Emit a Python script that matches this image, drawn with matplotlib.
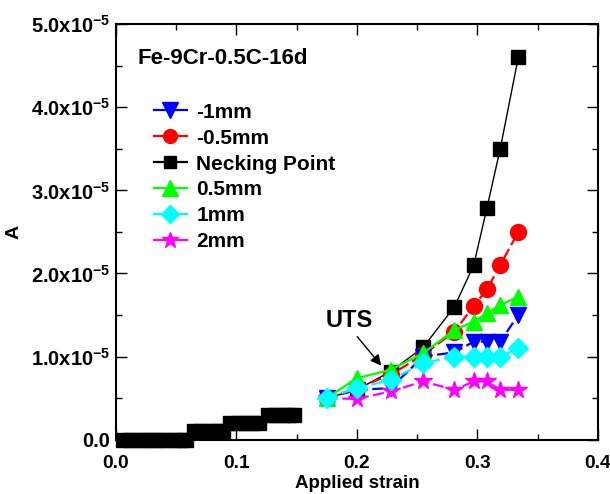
import matplotlib
matplotlib.use("Agg")
import matplotlib.pyplot as plt
from matplotlib.lines import Line2D
from matplotlib.ticker import MultipleLocator, FuncFormatter

# =====================================
# DATA
# =====================================

# necking point, dense low-strain part (squares only)
neck_low_x = [0.006, 0.012, 0.018, 0.024, 0.030, 0.036, 0.042, 0.048, 0.054, 0.058,
              0.065, 0.071, 0.077, 0.083, 0.089,
              0.095, 0.101, 0.107, 0.113, 0.119,
              0.126, 0.132, 0.138, 0.144, 0.148]
neck_low_y = [0.0, 0.0, 0.0, 0.0, 0.0, 0.0, 0.0, 0.0, 0.0, 0.0,
              0.1, 0.1, 0.1, 0.1, 0.1,
              0.2, 0.2, 0.2, 0.2, 0.2,
              0.3, 0.3, 0.3, 0.3, 0.3]

strain = [0.175, 0.200, 0.228, 0.255, 0.281, 0.297, 0.308, 0.319, 0.334]

neck = [0.50, 0.60, 0.82, 1.11, 1.60, 2.10, 2.79, 3.50, 4.60]
m05 = [0.50, 0.62, 0.78, 1.02, 1.30, 1.61, 1.81, 2.10, 2.50]
m1 = [0.50, 0.60, 0.62, 1.00, 1.05, 1.18, 1.18, 1.18, 1.50]
p05 = [0.50, 0.74, 0.84, 1.04, 1.32, 1.42, 1.52, 1.62, 1.72]
p1 = [0.50, 0.62, 0.72, 0.92, 1.00, 1.00, 1.00, 1.00, 1.10]
p2 = [0.50, 0.49, 0.58, 0.70, 0.60, 0.70, 0.70, 0.60, 0.60]

scale = 1e-5

labels = ["-1mm", "-0.5mm", "Necking Point", "0.5mm", "1mm", "2mm"]

# =====================================
# STYLE
# =====================================

plt.rcParams["font.family"] = ["Liberation Sans", "DejaVu Sans"]
plt.rcParams["font.weight"] = "bold"
plt.rcParams["mathtext.fontset"] = "custom"
plt.rcParams["mathtext.rm"] = "Liberation Sans:bold"
plt.rcParams["mathtext.it"] = "Liberation Sans:bold"
plt.rcParams["mathtext.bf"] = "Liberation Sans:bold"

fig = plt.figure(figsize=(6.10, 4.94), dpi=100)
ax = fig.add_axes([0.190, 0.110, 0.790, 0.841])

def sc(vals):
    return [v * scale for v in vals]

# =====================================
# PLOT
# =====================================

ax.plot(neck_low_x, sc(neck_low_y), ls="none", marker="s", ms=9.5,
        color="black", clip_on=False, zorder=3)
ax.plot(strain, sc(neck), "-", color="black", lw=1.0, marker="s", ms=9.5, zorder=3)
ax.plot(strain, sc(m05), color="red", lw=1.6, ls=(0, (5, 2)), marker="o", ms=11.5, zorder=3)
ax.plot(strain, sc(m1), color="blue", lw=1.6, ls=(0, (5, 2)), marker="v", ms=12, zorder=3)
ax.plot(strain, sc(p05), "-", color="lime", lw=1.6, marker="^", ms=12, zorder=3)
ax.plot(strain, sc(p2), color="magenta", lw=1.6, ls=(0, (5, 2)), marker="*", ms=13, zorder=3)
ax.plot(strain, sc(p1), color="cyan", lw=1.6, ls=(0, (5, 2)), marker="D", ms=10, zorder=3)

# legend with solid line handles
handles = [
    Line2D([], [], color="blue", lw=1.6, marker="v", ms=11),
    Line2D([], [], color="red", lw=1.6, marker="o", ms=10),
    Line2D([], [], color="black", lw=1.6, marker="s", ms=8),
    Line2D([], [], color="lime", lw=1.6, marker="^", ms=11),
    Line2D([], [], color="cyan", lw=1.6, marker="D", ms=9),
    Line2D([], [], color="magenta", lw=1.6, marker="*", ms=12),
]
fig.legend(handles, labels, loc="upper left", bbox_to_anchor=(0.252, 0.792),
           frameon=False, fontsize=15, handlelength=1.6, handletextpad=0.45,
           labelspacing=0.33, borderpad=0, borderaxespad=0)

ax.text(0.044, 0.918, "Fe-9Cr-0.5C-16d", transform=ax.transAxes, fontsize=16,
        fontweight="bold", va="center", ha="left")

# UTS label and arrow
ax.text(0.1939, 1.44e-5, "UTS", fontsize=17, fontweight="bold",
        ha="center", va="center")
ax.annotate("", xy=(0.2203, 0.89e-5), xytext=(0.2003, 1.24e-5),
            arrowprops=dict(arrowstyle="-|>", color="black", lw=1.0,
                            mutation_scale=16, shrinkA=0, shrinkB=0))

# =====================================
# AXES
# =====================================

ax.set_xlim(0, 0.4)
ax.set_ylim(0, 5e-5)
ax.xaxis.set_major_locator(MultipleLocator(0.1))
ax.xaxis.set_minor_locator(MultipleLocator(0.05))
ax.yaxis.set_major_locator(MultipleLocator(1e-5))
ax.yaxis.set_minor_locator(MultipleLocator(0.5e-5))

def yfmt(v, pos):
    if abs(v) < 1e-12:
        return "0.0"
    return "%.1fx10$^{-5}$" % (v / 1e-5)

ax.yaxis.set_major_formatter(FuncFormatter(yfmt))
ax.xaxis.set_major_formatter(FuncFormatter(lambda v, p: "%.1f" % v))

ax.tick_params(which="both", direction="in", top=True, right=True, width=1.0)
ax.tick_params(axis="x", labelsize=13.8)
ax.tick_params(axis="y", labelsize=14.5)
ax.tick_params(which="major", length=8)
ax.tick_params(which="minor", length=4)
ax.tick_params(axis="x", which="major", pad=11)
ax.tick_params(axis="y", which="major", pad=4)
for lbl in ax.get_xticklabels() + ax.get_yticklabels():
    lbl.set_fontweight("bold")
for s in ax.spines.values():
    s.set_linewidth(1.5)

ax.set_xlabel("Applied strain", fontsize=13.5, fontweight="bold", labelpad=2)
ax.set_ylabel("A", fontsize=14, fontweight="bold", labelpad=6)

plt.savefig("out.png", dpi=100)
